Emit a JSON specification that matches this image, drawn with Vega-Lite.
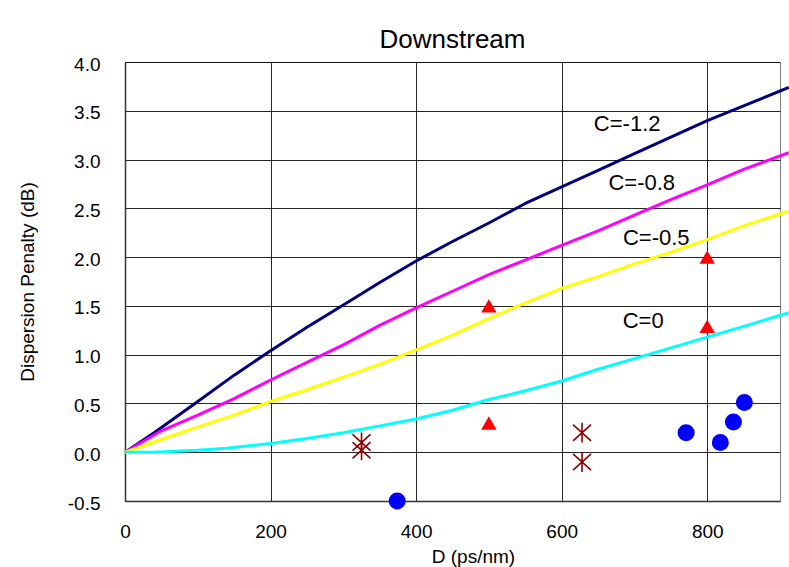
{
  "$schema": "https://vega.github.io/schema/vega-lite/v6.json",
  "width": 655,
  "height": 439,
  "autosize": {"type": "none"},
  "padding": {"left": 125, "top": 62, "right": 9, "bottom": 66},
  "background": "white",
  "title": {"text": "Downstream", "fontSize": 26, "font": "Liberation Sans", "fontWeight": "normal", "color": "black", "anchor": "middle", "frame": "group", "baseline": "bottom", "offset": -24},
  "config": {
    "font": "Liberation Sans",
    "view": {"stroke": "#808080", "strokeWidth": 1},
    "axis": {
      "labelFont": "Liberation Sans", "labelFontSize": 19, "labelColor": "black", "labelFlush": false,
      "titleFont": "Liberation Sans", "titleFontSize": 19, "titleFontWeight": "normal", "titleColor": "black",
      "gridColor": "#000000", "gridWidth": 1, "gridOpacity": 0.85,
      "domainColor": "#333333", "domainWidth": 1.5,
      "ticks": false, "tickSize": 0
    }
  },
  "datasets": {
    "curves": [
      {"C": "-1.2", "D": 0, "P": 0}, {"C": "-1.2", "D": 40, "P": 0.2}, {"C": "-1.2", "D": 100, "P": 0.52}, {"C": "-1.2", "D": 150, "P": 0.79},
      {"C": "-1.2", "D": 200, "P": 1.04}, {"C": "-1.2", "D": 250, "P": 1.28}, {"C": "-1.2", "D": 300, "P": 1.51}, {"C": "-1.2", "D": 350, "P": 1.74},
      {"C": "-1.2", "D": 400, "P": 1.96}, {"C": "-1.2", "D": 450, "P": 2.16}, {"C": "-1.2", "D": 500, "P": 2.35}, {"C": "-1.2", "D": 550, "P": 2.55},
      {"C": "-1.2", "D": 600, "P": 2.72}, {"C": "-1.2", "D": 650, "P": 2.89}, {"C": "-1.2", "D": 700, "P": 3.06}, {"C": "-1.2", "D": 750, "P": 3.23},
      {"C": "-1.2", "D": 800, "P": 3.4}, {"C": "-1.2", "D": 850, "P": 3.55}, {"C": "-1.2", "D": 912, "P": 3.74},
      {"C": "-0.8", "D": 0, "P": 0}, {"C": "-0.8", "D": 50, "P": 0.22}, {"C": "-0.8", "D": 100, "P": 0.38}, {"C": "-0.8", "D": 150, "P": 0.55},
      {"C": "-0.8", "D": 200, "P": 0.74}, {"C": "-0.8", "D": 250, "P": 0.92}, {"C": "-0.8", "D": 300, "P": 1.1}, {"C": "-0.8", "D": 350, "P": 1.3},
      {"C": "-0.8", "D": 400, "P": 1.48}, {"C": "-0.8", "D": 450, "P": 1.65}, {"C": "-0.8", "D": 500, "P": 1.82}, {"C": "-0.8", "D": 550, "P": 1.97},
      {"C": "-0.8", "D": 600, "P": 2.12}, {"C": "-0.8", "D": 650, "P": 2.27}, {"C": "-0.8", "D": 700, "P": 2.43}, {"C": "-0.8", "D": 750, "P": 2.59},
      {"C": "-0.8", "D": 800, "P": 2.74}, {"C": "-0.8", "D": 850, "P": 2.9}, {"C": "-0.8", "D": 912, "P": 3.07},
      {"C": "-0.5", "D": 0, "P": 0}, {"C": "-0.5", "D": 50, "P": 0.13}, {"C": "-0.5", "D": 100, "P": 0.26}, {"C": "-0.5", "D": 150, "P": 0.38},
      {"C": "-0.5", "D": 200, "P": 0.52}, {"C": "-0.5", "D": 250, "P": 0.64}, {"C": "-0.5", "D": 300, "P": 0.77}, {"C": "-0.5", "D": 350, "P": 0.9},
      {"C": "-0.5", "D": 400, "P": 1.05}, {"C": "-0.5", "D": 450, "P": 1.2}, {"C": "-0.5", "D": 500, "P": 1.37}, {"C": "-0.5", "D": 550, "P": 1.53},
      {"C": "-0.5", "D": 600, "P": 1.68}, {"C": "-0.5", "D": 650, "P": 1.8}, {"C": "-0.5", "D": 700, "P": 1.93}, {"C": "-0.5", "D": 750, "P": 2.05},
      {"C": "-0.5", "D": 800, "P": 2.18}, {"C": "-0.5", "D": 850, "P": 2.32}, {"C": "-0.5", "D": 912, "P": 2.47},
      {"C": "0", "D": 0, "P": 0}, {"C": "0", "D": 40, "P": 0.0}, {"C": "0", "D": 100, "P": 0.02}, {"C": "0", "D": 140, "P": 0.04},
      {"C": "0", "D": 200, "P": 0.09}, {"C": "0", "D": 250, "P": 0.14}, {"C": "0", "D": 300, "P": 0.2}, {"C": "0", "D": 350, "P": 0.27},
      {"C": "0", "D": 400, "P": 0.34}, {"C": "0", "D": 450, "P": 0.43}, {"C": "0", "D": 500, "P": 0.54}, {"C": "0", "D": 550, "P": 0.63},
      {"C": "0", "D": 600, "P": 0.73}, {"C": "0", "D": 650, "P": 0.85}, {"C": "0", "D": 700, "P": 0.96}, {"C": "0", "D": 750, "P": 1.07},
      {"C": "0", "D": 800, "P": 1.18}, {"C": "0", "D": 850, "P": 1.29}, {"C": "0", "D": 912, "P": 1.43}
    ],
    "points": [
      {"S": "tri", "D": 500, "P": 1.5}, {"S": "tri", "D": 500, "P": 0.3}, {"S": "tri", "D": 800, "P": 2.0}, {"S": "tri", "D": 800, "P": 1.29},
      {"S": "star", "D": 325, "P": 0.1}, {"S": "star", "D": 325, "P": 0.02}, {"S": "star", "D": 628, "P": 0.2}, {"S": "star", "D": 628, "P": -0.1},
      {"S": "dot", "D": 374, "P": -0.5}, {"S": "dot", "D": 771, "P": 0.2}, {"S": "dot", "D": 818, "P": 0.1}, {"S": "dot", "D": 836, "P": 0.31}, {"S": "dot", "D": 851, "P": 0.51}
    ],
    "labels": [
      {"T": "C=-1.2", "D": 690, "P": 3.36},
      {"T": "C=-0.8", "D": 710, "P": 2.76},
      {"T": "C=-0.5", "D": 730, "P": 2.2},
      {"T": "C=0", "D": 712, "P": 1.34}
    ]
  },
  "encoding": {
    "x": {
      "field": "D", "type": "quantitative",
      "scale": {"domain": [0, 900], "nice": false, "zero": false},
      "axis": {"values": [0, 200, 400, 600, 800], "format": "d", "labelPadding": 21, "labelAngle": 0,
               "title": "D (ps/nm)", "titleX": 348, "titleY": 46, "titleBaseline": "top", "titleAlign": "center"}
    },
    "y": {
      "field": "P", "type": "quantitative",
      "scale": {"domain": [-0.5, 4], "nice": false, "zero": false},
      "axis": {"values": [-0.5, 0, 0.5, 1, 1.5, 2, 2.5, 3, 3.5, 4], "format": ".1f", "labelExpr": "replace(datum.label, '\u2212', '-')", "labelPadding": 25, "labelOffset": 2,
               "title": "Dispersion Penalty (dB)", "titleX": -88, "titleBaseline": "bottom"}
    }
  },
  "layer": [
    {
      "data": {"name": "curves"},
      "mark": {"type": "line", "strokeWidth": 3, "strokeJoin": "round"},
      "encoding": {
        "color": {"field": "C", "type": "nominal",
                  "scale": {"domain": ["-1.2", "-0.8", "-0.5", "0"], "range": ["#000080", "#FF00FF", "#FFFF00", "#00FFFF"]},
                  "legend": null},
        "order": {"field": "D", "type": "quantitative"}
      }
    },
    {
      "data": {"name": "points"},
      "transform": [{"filter": "datum.S === 'tri'"}],
      "mark": {"type": "point", "shape": "triangle-up", "filled": true, "color": "#FF0000", "size": 240, "opacity": 1}
    },
    {
      "data": {"name": "points"},
      "transform": [{"filter": "datum.S === 'dot'"}],
      "mark": {"type": "point", "shape": "circle", "filled": true, "color": "#0000FF", "size": 290, "opacity": 1}
    },
    {
      "data": {"name": "points"},
      "transform": [{"filter": "datum.S === 'star'"}],
      "mark": {"type": "point", "shape": "M-1,-0.9L1,0.9M1,-0.9L-1,0.9M0,-1.1L0,1.1", "filled": false, "stroke": "#8B0000", "strokeWidth": 1.6, "size": 324, "opacity": 1}
    },
    {
      "data": {"name": "labels"},
      "mark": {"type": "text", "fontSize": 22, "font": "Liberation Sans", "color": "black", "align": "center", "baseline": "middle"},
      "encoding": {"text": {"field": "T", "type": "nominal"}}
    }
  ]
}
